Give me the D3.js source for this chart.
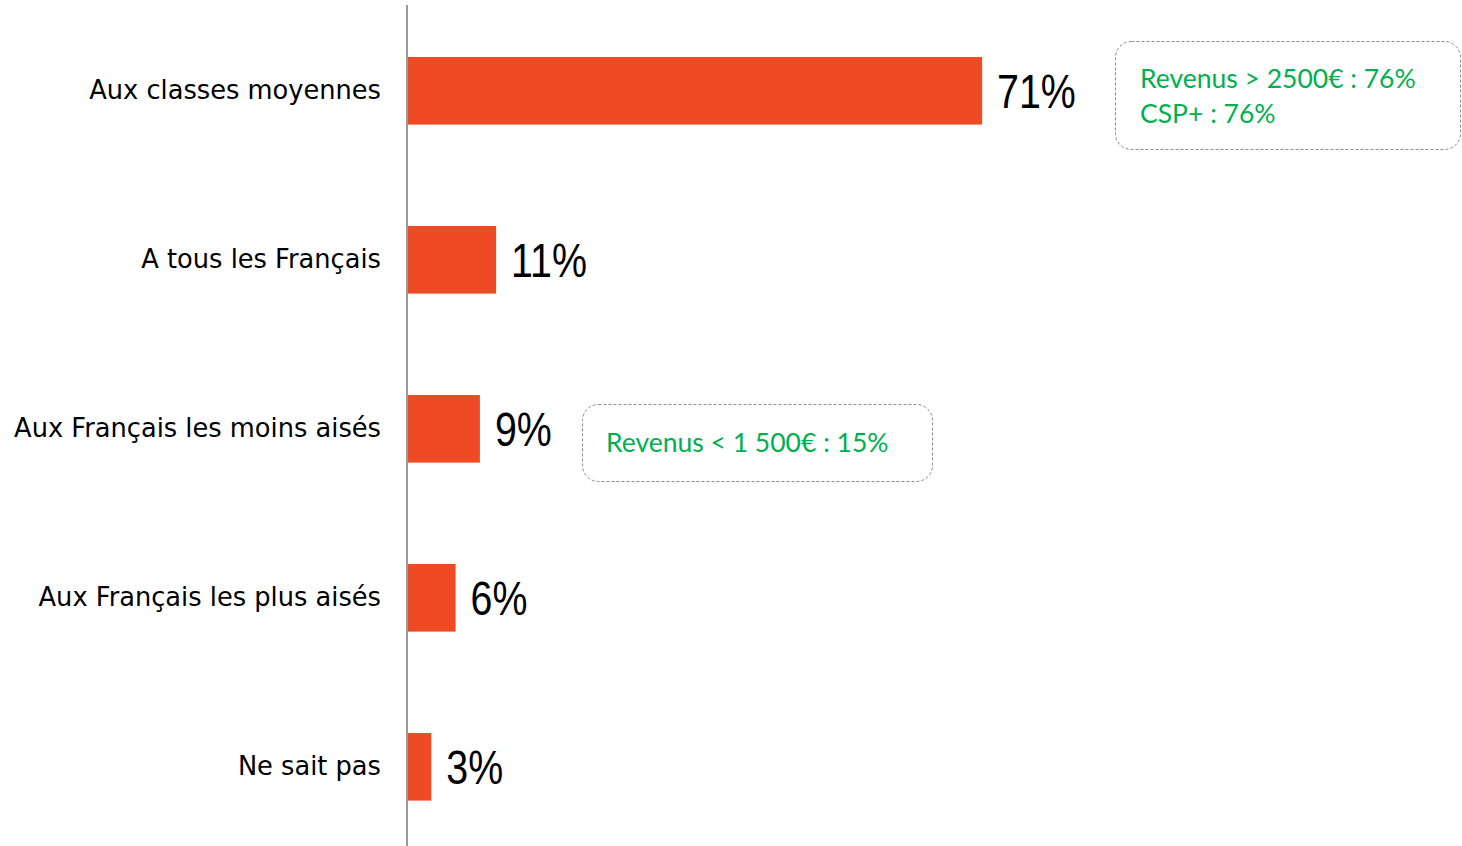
<!DOCTYPE html>
<html>
  <head>
    <meta charset="utf-8" />
    <title>bars</title>
    <style>
      body { margin: 0; background: #ffffff; }
    </style>
  </head>
  <body>
    <svg width="1462" height="846" id="mainsvg"></svg>
    <script src="https://cdn.jsdelivr.net/npm/d3@7"></script>
    <script>
      // data
      const categories = ["Aux classes moyennes", "A tous les Français", "Aux Français les moins aisés", "Aux Français les plus aisés", "Ne sait pas"];
      const values = [71, 11, 9, 6, 3];
      const noteTop = ["Revenus > 2500€ : 76%", "CSP+ : 76%"];
      const noteMid = ["Revenus < 1 500€ : 15%"];

      const svg = d3.select("#mainsvg");
      const axisX = 407;

      const xScale = d3.scaleLinear().domain([0, 100]).range([axisX, axisX + 810]);
      const yScale = d3.scaleBand().domain(categories).range([6.3, 851.3]).paddingInner(0.6).paddingOuter(0.3);

      const rows = categories.map((c, i) => ({ cat: c, val: values[i] }));

      // bars
      svg.selectAll("rect.bar")
        .data(rows)
        .join("rect")
        .attr("class", "bar")
        .attr("x", xScale(0))
        .attr("y", (d) => yScale(d.cat))
        .attr("width", (d) => xScale(d.val) - xScale(0))
        .attr("height", yScale.bandwidth())
        .attr("fill", "#ee4b24");

      // value labels (narrow look -> squeeze horizontally)
      svg.selectAll("text.val")
        .data(rows)
        .join("text")
        .attr("class", "val")
        .attr("transform", (d) => `translate(${xScale(d.val) + 15}, ${yScale(d.cat) + yScale.bandwidth() / 2 + 17}) scale(0.82, 1)`)
        .attr("font-family", "'Liberation Sans', Arial, sans-serif")
        .attr("font-size", 48)
        .attr("fill", "#000")
        .text((d) => d.val + "%");

      // category axis
      const yAxis = d3.axisLeft(yScale).tickSize(0).tickPadding(26);
      const yAxisGroup = svg.append("g").attr("transform", `translate(${axisX}, 0)`).call(yAxis);
      yAxisGroup.select(".domain").remove();
      yAxisGroup.selectAll("text")
        .attr("font-family", "'DejaVu Sans', Tahoma, sans-serif")
        .attr("font-size", 25.7)
        .attr("fill", "#000");

      svg.append("line")
        .attr("x1", axisX).attr("x2", axisX)
        .attr("y1", 5).attr("y2", 846)
        .attr("stroke", "#999")
        .attr("stroke-width", 2);

      // annotation boxes
      function note(lines, box, tx, ty, lh) {
        svg.append("rect")
          .attr("x", box[0]).attr("y", box[1])
          .attr("width", box[2]).attr("height", box[3])
          .attr("rx", 16).attr("ry", 16)
          .attr("fill", "none")
          .attr("stroke", "#8c8c8c")
          .attr("stroke-width", 1)
          .attr("stroke-dasharray", "3,2");
        svg.append("g").selectAll("text")
          .data(lines)
          .join("text")
          .attr("x", tx)
          .attr("y", (d, i) => ty + i * lh)
          .attr("font-family", "Lato, 'Open Sans', sans-serif")
          .attr("font-size", 26.5)
          .attr("fill", "#00b050")
          .text((d) => d);
      }
      note(noteTop, [1115.5, 41.5, 345, 108], 1140, 88, 35);
      note(noteMid, [582.5, 404.5, 350, 77], 606, 452, 35);
    </script>
  </body>
</html>
